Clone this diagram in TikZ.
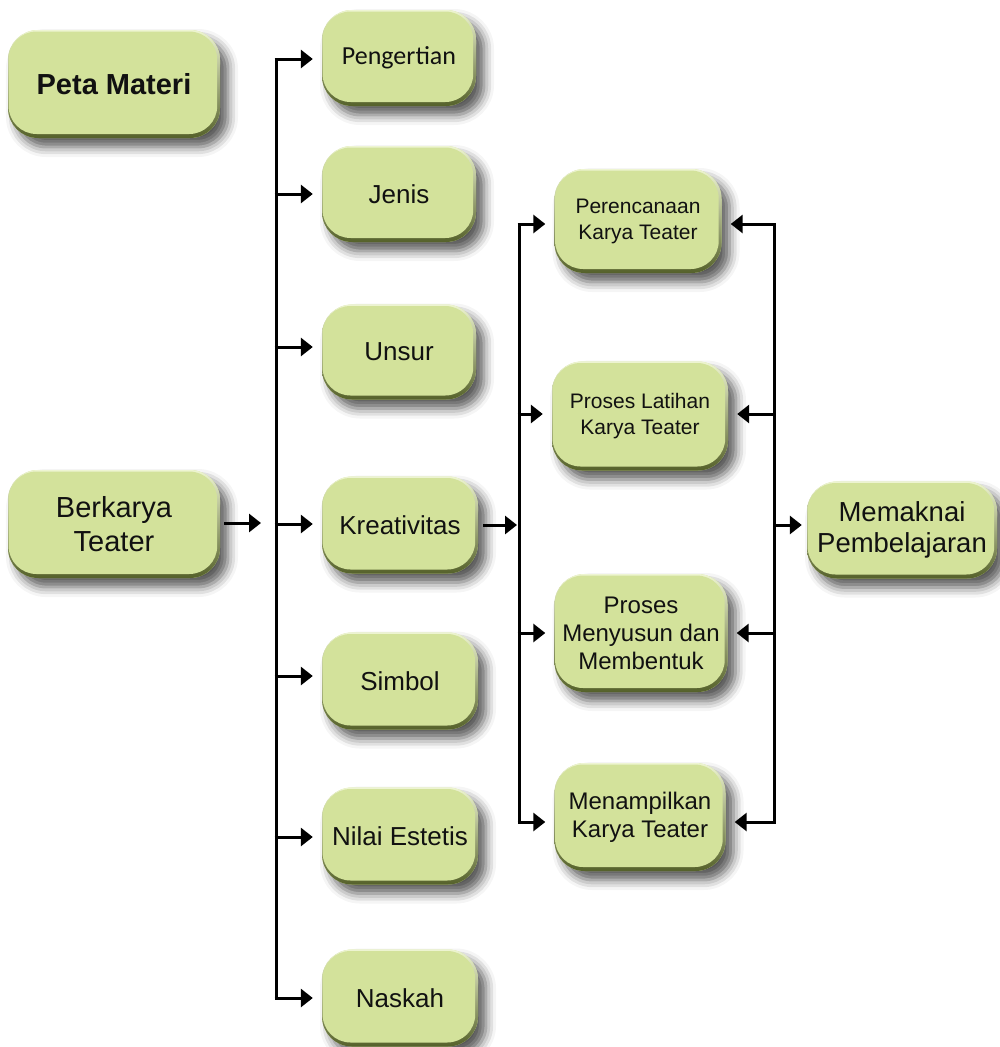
\documentclass[tikz,border=0pt]{standalone}
\usepackage{fontspec}
\setmainfont{Liberation Sans}
\newfontfamily\calibri{Carlito}
\usetikzlibrary{arrows.meta,shadows.blur}
\definecolor{boxfill}{HTML}{D3E29B}
\definecolor{boxhi}{HTML}{EEF5D2}
\definecolor{boxrim}{HTML}{55612A}
\definecolor{ink}{HTML}{111111}

\begin{document}
\begin{tikzpicture}[x=1pt, y=-1pt, text=ink,
  box/.style={rounded corners=30pt, fill=boxfill, align=center, inner sep=3pt,
    blur shadow={shadow xshift=8pt, shadow yshift=-9pt, shadow blur radius=10pt, shadow opacity=65},
    path picture={
      \shade[top color=boxhi, bottom color=boxrim]
        (path picture bounding box.south west) rectangle (path picture bounding box.north east);
      \fill[boxfill, rounded corners=28pt]
        ([shift={(0.6pt,4pt)}]path picture bounding box.south west) rectangle
        ([shift={(-2.8pt,-1.5pt)}]path picture bounding box.north east);}},
  judul/.style={font=\fontsize{29}{33}\selectfont\bfseries},
  utama/.style={font=\fontsize{29}{34}\selectfont},
  besar/.style={font=\fontsize{27.5}{31}\selectfont},
  sub/.style={font=\fontsize{26}{30}\selectfont},
  sedang/.style={font=\fontsize{24}{28}\selectfont},
  kecil/.style={font=\fontsize{21}{26}\selectfont},
  garis/.style={line width=3pt},
  panah/.style={-{Triangle[length=12pt,width=18pt]}, line width=3pt, shorten >=9pt}]
\newcommand{\kotak}[6]{%
  \node[box, #5, minimum width=#3pt, minimum height=#4pt] (#1) at (#2) {#6};}
\useasboundingbox (0,0) rectangle (999,1047);

% kolom kiri
\kotak{peta}{114,84}{212}{108}{judul}{Peta Materi}
\kotak{berkarya}{114,524}{212}{108}{utama}{Berkarya\\Teater}

% materi
\kotak{pengertian}{399,58}{154}{96}{sub}{\calibri Pengertian}
\kotak{jenis}{399,194}{154}{96}{sub}{Jenis}
\kotak{unsur}{399,352}{154}{95}{sub}{Unsur}
\kotak{kreativitas}{400,525}{156}{97}{sub}{Kreativitas}
\kotak{simbol}{400,681}{156}{97}{sub}{Simbol}
\kotak{nilai}{400,836}{156}{97}{sub}{Nilai Estetis}
\kotak{naskah}{400,998}{156}{97}{sub}{Naskah}

% kreativitas
\kotak{perencanaan}{638,221}{167}{104}{kecil}{Perencanaan\\Karya Teater}
\kotak{latihan}{640,416}{176}{109}{kecil}{Proses Latihan\\Karya Teater}
\kotak{menyusun}{641,633}{173}{118}{sedang}{Proses\\Menyusun dan\\Membentuk}
\kotak{menampilkan}{640,817}{171}{108}{sedang}{Menampilkan\\Karya Teater}
\kotak{memaknai}{902,530}{190}{97}{besar}{Memaknai\\Pembelajaran}

\coordinate (kiri) at (276,0);
\coordinate (tengah) at (519,0);
\coordinate (kanan) at (774,0);

\draw[garis] ([yshift=-1pt]kiri |- pengertian.west) -- (kiri |- naskah.west);
\foreach \n/\d in {pengertian/-1,jenis/0,unsur/5,kreativitas/1,simbol/5,nilai/-1,naskah/0}
  \draw[panah, shorten <=-1.5pt] ([yshift=\d pt]kiri |- \n.west) -- ([yshift=\d pt]\n.west);
\draw[panah, shorten <=4pt, shorten >=15pt] ([yshift=1pt]berkarya.east) -- ([yshift=1pt]kiri |- berkarya.east);
\draw[panah, shorten <=5pt, shorten >=2pt] (kreativitas.east) -- (tengah |- kreativitas.east);

\draw[garis] ([yshift=-3pt]tengah |- perencanaan.west) -- ([yshift=-5pt]tengah |- menampilkan.west);
\draw[garis] ([yshift=-3pt]kanan |- perencanaan.east) -- ([yshift=-5pt]kanan |- menampilkan.east);
\foreach \n/\d in {perencanaan/-3,latihan/2,menyusun/0,menampilkan/-5}{
  \draw[panah, shorten <=-1.5pt] ([yshift=\d pt]tengah |- \n.west) -- ([yshift=\d pt]\n.west);
  \draw[panah, shorten <=-1.5pt] ([yshift=\d pt]kanan |- \n.east) -- ([yshift=\d pt]\n.east);}
\draw[panah, shorten >=5pt] ([yshift=5pt]kanan |- memaknai.west) -- ([yshift=5pt]memaknai.west);
\end{tikzpicture}
\end{document}
